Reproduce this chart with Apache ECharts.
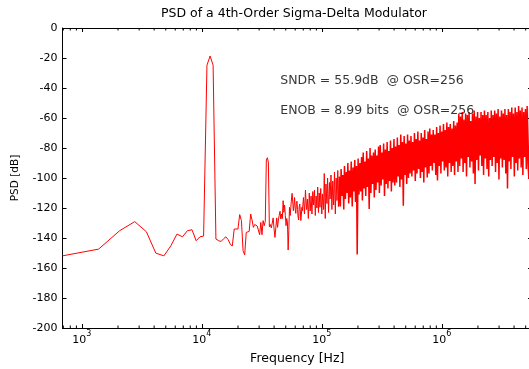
<!DOCTYPE html>
<html>
<head>
<meta charset="utf-8">
<title>PSD of a 4th-Order Sigma-Delta Modulator</title>
<script src="https://cdn.jsdelivr.net/npm/echarts@6/dist/echarts.min.js"></script>
<style>
html, body { margin: 0; padding: 0; background: #fff; }
#psd { width: 529px; height: 369px; }
</style>
</head>
<body>
<div id="psd"></div>
<script>
// FFT settings: bins are k * fs / nfft
const fs = 11289600;
const nfft = 16384;
const df = fs / nfft;

// in-band part, every bin
const lowBins = [1,2,3,4,5,6,7,8,9,10,11,12,13,14,15,16,17,18,19,20,
  21,22,23,24,25,26,27,28,29,30,31,32,33,34,35,36,37,38,39,40,
  41,42,43,44,45,46,47,48,49,50,51,52,53,54,55,56,57,58,59,60,
  61,62,63,64,65,66,67,68,69,70,71,72,73,74,75,76,77,78,79,80,
  81,82,83,84,85,86,87,88,89,90,91,92,93,94,95,96,97,98,99,100];
const lowDb = [-151.9,-147.4,-135.1,-129.1,-135.8,-150.1,-151.9,-145.2,-137.4,-139.2,
  -135.1,-134.5,-141.8,-139.2,-138.7,-24.8,-18.7,-24.8,-140.7,-141.8,
  -142.3,-140.5,-139.2,-141,-144,-145.4,-134,-132.9,-134,-124.4,
  -128.4,-148.5,-151.2,-136.3,-136,-135.6,-124,-128,-132.9,-131,
  -130.2,-132,-133.3,-137.8,-129.6,-137.8,-128.4,-131.8,-129,-87.9,
  -86.5,-89.4,-132.5,-131,-133.3,-130,-126.6,-134,-139.6,-133,
  -126.6,-132.9,-128,-125,-122.2,-127.3,-124,-127,-115.1,-122.9,
  -118,-125,-131.8,-127,-130,-148,-135,-119.5,-125,-119.5,
  -114,-110.2,-116,-121.8,-118,-113,-120.6,-123.6,-117,-115.5,
  -121,-126,-128,-119,-117.3,-122,-128.4,-124,-119.5,-121.8];

// shaped noise, subset of bins
const noiseBins = [102,104,106,108,110,112,114,116,118,120,122,124,126,128,130,132,134,136,138,140,142,145,147,150,
  152,155,157,160,162,165,168,170,173,176,179,182,185,188,191,194,197,200,
  203,207,210,214,217,221,224,228,232,236,239,243,247,251,255,260,264,268,273,277,282,286,291,296,301,
  306,311,316,321,326,332,337,343,348,354,360,366,372,378,384,391,397,
  404,410,417,424,431,438,445,453,460,468,475,483,491,499,508,516,524,533,542,551,560,569,579,588,598,
  608,618,628,638,649,660,670,682,693,704,716,728,740,752,765,777,790,
  803,817,830,844,858,872,886,901,916,931,947,962,978,994,1011,1027,1044,1062,1079,1097,1115,1134,1152,1171,1191,
  1210,1230,1251,1271,1292,1314,1335,1357,1380,1403,1426,1449,1473,1498,1522,1548,1573,1599,1626,1652,
  1680,1707,1736,1764,1793,1823,1853,1884,1915,1947,1979,
  2011,2045,2078,2113,2148,2183,2219,2256,2293,2331,2370,2409,2449,2489,2530,2572,2614,2657,2701,2746,
  2791,2837,2884,2932,2980,3030,3080,3130,3182,3235,3288,3342,3398,3454,3511,3569,3628,3688,3749,3811,
  3874,3938,4003,4069,4136,4205,4274,4345,4417,4490,4564,4639,4716,4794,4873,4954,5036,5119,5203,5289,
  5377,5465,5556,5648,5741,5836,5932,6030,6130,6231,6334,6439,6545,6653,6763,6875,6989,7104,7222,7341,
  7462,7586,7711,7839,7968,8100,8192];
const noiseDb = [-113,-124,-108,-121,-114,-127,-110,-122,-112,-124,-109,-118,-108,-125,-112,-120,-106,-123,-110,-119.5,-107,-124,-110.6,-121,
  -97,-127,-104,-117,-100,-123,-103,-114,-98,-121,-102,-118,-96,-124,-100,-115,-95,-119,
  -99,-119,-94,-112,-98,-121,-92,-114,-96,-110,-90,-117,-95,-113,-89,-119,-93,-109,-88,-116,-92,-151,-87,-111,-90,
  -109,-86,-115,-83,-107,-89,-112,-82,-106,-87,-120.6,-80,-110,-85,-104,-83,-113,
  -81,-108,-85,-103,-79,-110,-78,-105,-83,-101,-77,-112,-81,-104,-76,-107,-82,-102,-75,-109,-80,-103,-74,-105,-79,
  -103,-73,-99,-78,-106,-71,-101,-76,-118.5,-72,-98,-77,-104,-71,-100,-75,-97,
  -72,-99,-76,-95,-70,-102,-74,-97,-69,-94,-75,-100,-70,-96,-73,-103,-68,-93,-74,-99.7,-69,-97,-67,-92,-71,
  -95,-68,-90,-71,-98,-66,-101.7,-70,-92,-65,-97,-69,-89,-64,-95,-68,-93,-63,-99,-66,
  -90,-64,-96,-67,-92,-62,-98,-65,-89,-63,-96,
  -57,-92,-59,-87,-56,-96,-61,-90,-57,-99,-58,-86,-56,-93,-62,-89,-57,-97,-55,-104,
  -59,-88,-56,-95,-60,-85,-56,-92,-58,-98,-55,-87,-58,-94,-56,-99,-60,-88,-55,-92,
  -58,-86,-55,-96,-57,-90,-54,-101,-59,-87,-55,-93,-57,-88,-54,-97,-58,-107,-54,-89,
  -56,-94,-53,-86,-57,-99,-53,-90,-56,-95,-52,-87,-55,-93,-53,-98,-56,-86,-54,-94,
  -52,-90,-100.6,-53,-87,-55,-93];

// log axis minor ticks (2..9 per decade)
const minorTicks = [700,800,900,2000,3000,4000,5000,6000,7000,8000,9000,
  20000,30000,40000,50000,60000,70000,80000,90000,
  200000,300000,400000,500000,600000,700000,800000,900000,
  2000000,3000000,4000000,5000000];

// text annotations, in data coordinates
const notes = ['SNDR = 55.9dB  @ OSR=256', 'ENOB = 8.99 bits  @ OSR=256'];
const notePos = [[45000, -35], [45000, -55]];

const FONT = "'DejaVu Sans', sans-serif";

const lowData = lowBins.map((k, i) => [k * df, lowDb[i]]);
const noiseData = noiseBins.map((k, i) => [k * df, noiseDb[i]]);
// the dense noise is drawn a bit heavier so it reads as a filled band
const split = 41;
const thinData = lowData.concat(noiseData.slice(0, split + 1));
const denseData = noiseData.slice(split);

const chart = echarts.init(document.getElementById('psd'), null, { renderer: 'canvas' });

const frame = { show: true, onZero: false, lineStyle: { color: '#000', width: 1 } };
const tick = { show: true, inside: true, length: 4, lineStyle: { color: '#000' } };

chart.setOption({
  animation: false,
  backgroundColor: '#fff',
  grid: { left: 62.5, top: 28, width: 469.5, height: 300, containLabel: false, outerBoundsMode: 'none' },
  graphic: [{
    type: 'text',
    x: 294, y: 14,
    style: {
      text: 'PSD of a 4th-Order Sigma-Delta Modulator',
      textAlign: 'center', textVerticalAlign: 'middle',
      fontFamily: FONT, fontSize: 12.5, fill: '#000'
    }
  }],
  xAxis: [{
    type: 'log', logBase: 10, min: df, max: fs / 2,
    axisLine: frame,
    axisTick: tick,
    splitLine: { show: false },
    axisLabel: {
      margin: 2,
      formatter: v => {
        const e = Math.log10(v);
        const r = Math.round(e);
        return Math.abs(e - r) < 1e-6 ? '{b|10}{e|' + r + '}' : '';
      },
      rich: {
        b: { fontFamily: FONT, fontSize: 11, color: '#000', verticalAlign: 'bottom' },
        e: { fontFamily: FONT, fontSize: 8, color: '#000', verticalAlign: 'top', padding: [0, 0, 8, 0] }
      }
    },
    name: 'Frequency [Hz]', nameLocation: 'middle', nameGap: 24,
    nameTextStyle: { fontFamily: FONT, fontSize: 12.5, color: '#000' }
  }, {
    type: 'log', logBase: 10, min: df, max: fs / 2, position: 'top',
    axisLine: frame,
    axisTick: tick,
    axisLabel: { show: false },
    splitLine: { show: false }
  }],
  yAxis: [{
    type: 'value', min: -200, max: 0, interval: 20,
    axisLine: frame,
    axisTick: tick,
    splitLine: { show: false },
    axisLabel: { fontFamily: FONT, fontSize: 11, color: '#000', margin: 5 },
    name: 'PSD [dB]', nameLocation: 'middle', nameGap: 42, nameRotate: 90,
    nameTextStyle: { fontFamily: FONT, fontSize: 10.5, color: '#000' }
  }, {
    type: 'value', min: -200, max: 0, interval: 20, position: 'right',
    axisLine: frame,
    axisTick: tick,
    axisLabel: { show: false },
    splitLine: { show: false }
  }],
  series: [{
    name: 'PSD',
    type: 'line',
    data: thinData,
    symbol: 'none',
    lineStyle: { color: '#ff0000', width: 1 },
    z: 3
  }, {
    name: 'PSD noise',
    type: 'line',
    data: denseData,
    symbol: 'none',
    lineStyle: { color: '#ff0000', width: 1.5 },
    z: 3
  }, {
    // minor ticks on bottom and top frame
    type: 'custom',
    data: minorTicks.map(f => [f, -200]),
    encode: { x: 0, y: 1 },
    silent: true,
    renderItem: (params, api) => {
      const f = api.value(0);
      const b = api.coord([f, -200]);
      const t = api.coord([f, 0]);
      return {
        type: 'group',
        children: [
          { type: 'line', shape: { x1: b[0], y1: b[1], x2: b[0], y2: b[1] - 2.5 }, style: { stroke: '#000', lineWidth: 1 } },
          { type: 'line', shape: { x1: t[0], y1: t[1], x2: t[0], y2: t[1] + 2.5 }, style: { stroke: '#000', lineWidth: 1 } }
        ]
      };
    },
    z: 4
  }, {
    type: 'scatter',
    data: notePos.map((p, i) => [p[0], p[1], notes[i]]),
    symbolSize: 0,
    silent: true,
    label: {
      show: true, position: 'right', distance: 0,
      formatter: p => p.value[2],
      fontFamily: FONT, fontSize: 12.5, color: '#000'
    },
    z: 5
  }]
});
</script>
</body>
</html>
